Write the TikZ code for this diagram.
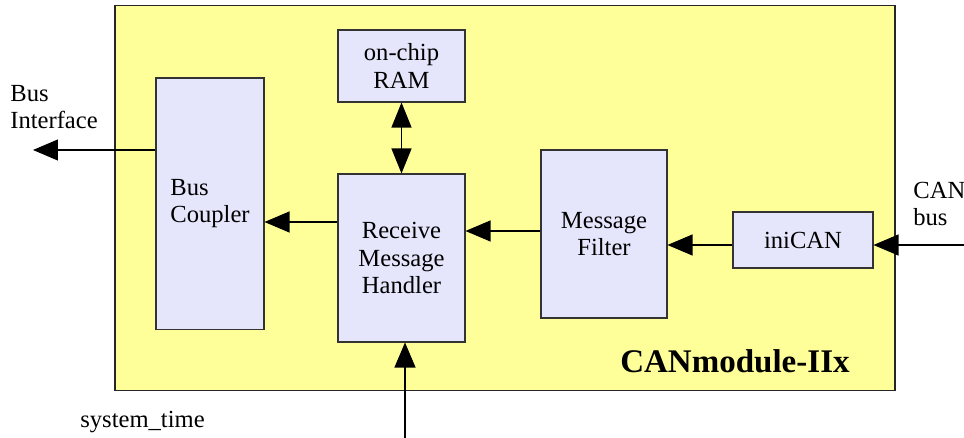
\documentclass[tikz,border=0pt]{standalone}
\usepackage{fontspec}
\setmainfont{Liberation Serif}
\usepackage{tikz}
\usetikzlibrary{arrows.meta, calc}

\definecolor{modyellow}{RGB}{255,255,153}
\definecolor{blklav}{RGB}{229,229,252}

\begin{document}
\begin{tikzpicture}[
    x=0.02cm, y=-0.02cm,
    font=\fontsize{14}{15.4}\selectfont,
    modbox/.style={rectangle, draw=black!85, line width=0.7pt, fill=modyellow,
      minimum width=15.6cm, minimum height=7.7cm, inner sep=0pt},
    blk/.style={rectangle, draw=black!80, line width=0.6pt, fill=blklav,
      align=center, inner sep=0pt},
    lbl/.style={inner sep=0pt, align=left},
    modtitle/.style={inner sep=0pt, font=\fontsize{18.8}{20}\selectfont\bfseries},
    arr/.style={-{Triangle[length=0.5cm, width=0.42cm]}, line width=0.6pt},
    dblarr/.style={{Triangle[length=0.5cm, width=0.4cm]}-{Triangle[length=0.5cm, width=0.4cm]}, line width=0.6pt},
  ]
  \useasboundingbox (0,0) rectangle (964,438);

  \node[modbox] (mod) at (505,198) {};

  \node[blk, align=left, minimum width=2.16cm, minimum height=5.04cm] (coupler) at (210,204) {Bus\\Coupler};
  \node[blk, minimum width=2.54cm, minimum height=1.44cm] (ram)    at (401.5,66)  {on-chip\\RAM};
  \node[blk, minimum width=2.54cm, minimum height=3.36cm] (rmh)    at (401.5,258) {Receive\\Message\\Handler};
  \node[blk, minimum width=2.52cm, minimum height=3.36cm] (filter) at (604,234)   {Message\\Filter};
  \node[blk, minimum width=2.8cm,  minimum height=1.12cm] (inican) at (803,240)   {iniCAN};

  \node[modtitle, anchor=base east] (modname) at (850,373) {CANmodule-IIx};

  % outside signals
  \coordinate (busif)   at (33,150);
  \coordinate (canbus)  at (964,245);
  \coordinate (systime) at (405,438);
  \node[lbl, anchor=north west] (busiflbl) at (10,85)   {Bus\\Interface};
  \node[lbl, anchor=north west] (canlbl)   at (913,182) {CAN\\bus};
  \node[lbl, anchor=base west]  (timelbl)  at (80,428)  {system\_time};

  \draw[arr] (coupler.west |- busif) -- (busif);
  \draw[arr] (rmh.west |- 0,222) -- (coupler.east |- 0,222);
  \draw[dblarr] (ram) -- (rmh);
  \draw[arr] (filter.west |- 0,231) -- (rmh.east |- 0,231);
  \draw[arr] (inican.west |- 0,245) -- (filter.east |- 0,245);
  \draw[arr] (canbus) -- (inican.east |- canbus);
  \draw[arr] (systime) -- (rmh.south -| systime);
\end{tikzpicture}
\end{document}
